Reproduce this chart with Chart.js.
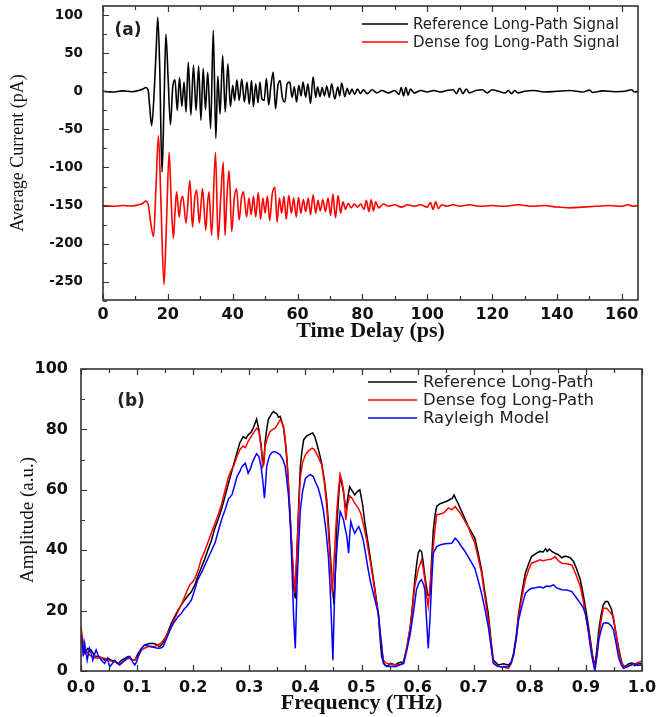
<!DOCTYPE html>
<html><head><meta charset="utf-8">
<script src="https://cdn.jsdelivr.net/npm/chart.js@4"></script>
<style>
html,body{margin:0;padding:0;background:#fff;overflow:hidden;}
#wrapA{position:absolute;left:0;top:0;width:658px;height:350px;}
#wrapB{position:absolute;left:0;top:350px;width:658px;height:367px;}
</style></head><body>
<div id="wrapA"><canvas id="chartA"></canvas></div>
<div id="wrapB"><canvas id="chartB"></canvas></div>
<script>
// ---------- Panel (a): time-domain signals ----------
const refTime = [0,3,6,9,11,12.3,13.2,13.9,14.4,15.0,15.8,16.4,16.9,17.5,18.2,18.8,19.4,20.1,20.8,21.5,22.2,22.9,23.6,24.3,25.0,25.6,26.3,27.1,27.9,28.7,29.5,30.2,30.9,31.6,32.3,33.2,34.0,34.8,35.4,36.1,36.9,37.7,38.5,39.3,40.0,40.6,41.3,42.0,42.8,43.6,44.4,45.1,45.8,46.4,47.1,47.8,48.4,49.0,49.7,50.4,51.1,51.8,52.5,53.2,53.9,54.6,55.3,56.1,56.8,57.6,58.3,59.0,59.7,60.4,61.1,61.7,62.5,63.2,64.0,64.8,65.6,66.2,66.9,67.6,68.3,69.0,69.8,70.5,71.5,72.4,73.0,73.6,74.6,75.3,76.0,76.8,77.6,78.5,79.4,80.3,81.5,83,84.5,86,88,90,91.3,92.0,92.7,93.4,94.1,94.8,96,98,100,102,104,106,108,109,110,111,112,113,115,117,118.5,120,122,124,125,126,127,128,130,133,136,140,144,148,150,151,154,158,161,163,164,165];
const refSignal = [0,-1,0.5,-0.5,1,3,5,2,-20,-45,0,55,97,30,-106,-20,75,15,-44,5,15,-25,18,-20,12,-27,38,-31,34,-25,33,-38,30,-24,25,-49,80,-62,20,-30,47,-27,36,-20,8,-12,15,-12,16,-14,12,-17,14,-20,10,-15,12,-10,-12,17,-18,8,25,-23,6,14,-8,-14,10,12,-8,6,-14,8,-6,12,-8,10,-16,19,-8,6,-7,5,-6,7,-8,10,-10,6,-6,11,-7,4,-4,3,-4,3,-3,2,-3,2,-2,1,-2,1,-4,5,-6,5,-5,3,-2,1,-1,1,-1,1,2,-3,4,-3,3,-2,1,2,-2,2,0,-2,1,-3,1,-2,0,1,-1,0,1,-1,1.5,-1.5,0.5,-0.5,0,2,-1,0];
const fogTime = [0,3,6,9,11,12.3,13.2,14.0,14.8,15.6,16.3,17.1,17.9,18.8,19.6,20.4,21.0,21.7,22.2,22.7,23.5,24.0,24.6,25.6,26.8,27.6,28.3,28.9,29.7,30.2,30.7,31.7,32.2,32.7,33.5,34.7,35.5,36.3,37.1,37.6,38.2,38.9,39.7,40.5,41.2,42.0,42.7,43.3,44.3,45.0,45.7,46.4,47.1,47.9,48.6,49.3,50.0,50.7,51.4,52.2,53.0,53.7,54.4,55.1,55.8,56.5,57.3,58.1,58.8,59.6,60.3,61.0,61.8,62.5,63.3,64.0,64.8,65.6,66.3,67.0,67.8,68.6,69.4,70.2,70.9,71.7,72.5,73.3,74.0,74.8,75.6,76.5,77.5,78.5,79.5,80.5,81.2,82.0,82.7,83.4,84.1,85,86.5,88,90,92,94,96,98,100,101,101.8,102.6,103.4,104.5,106,108,110,113,116,120,124,128,132,136,140,144,148,152,156,160,162,163.5,165];
const fogSignal = [-150,-151,-150,-150.5,-149,-147,-144,-150,-175,-191,-130,-58,-150,-254,-170,-80,-140,-193,-160,-132,-165,-145,-138,-173,-117,-178,-140,-130,-173,-150,-128,-182,-150,-132,-189,-80,-195,-140,-93,-189,-140,-104,-184,-140,-128,-169,-140,-132,-165,-140,-162,-138,-165,-133,-168,-140,-160,-138,-170,-135,-126,-172,-140,-160,-138,-168,-137,-160,-140,-165,-139,-160,-142,-158,-140,-162,-136,-160,-143,-157,-142,-158,-140,-163,-135,-166,-137,-160,-145,-155,-147,-153,-148,-152,-148,-155,-143,-158,-142,-157,-145,-153,-148,-151,-149,-152,-149,-151,-149,-152,-146,-155,-145,-154,-149,-151,-149,-151,-149,-151,-150,-151,-149,-151,-150,-152,-153,-152,-151,-150,-151,-149,-151,-150];
const timeTickValues = [0,10,20,30,40,50,60,70,80,90,100,110,120,130,140,150,160];
const timeTickLabels = ['0','','20','','40','','60','','80','','100','','120','','140','','160'];
const currentTickValues = [-275,-250,-225,-200,-175,-150,-125,-100,-75,-50,-25,0,25,50,75,100];
const currentTickLabels = ['','-250','','-200','','-150','','-100','','-50','','0','','50','','100'];

// ---------- Panel (b): spectra ----------
const refFreq = [0,0.003,0.007,0.012,0.018,0.024,0.030,0.036,0.042,0.048,0.054,0.060,0.066,0.072,0.078,0.084,0.090,0.096,0.102,0.108,0.113,0.120,0.128,0.134,0.140,0.145,0.149,0.155,0.161,0.167,0.173,0.179,0.185,0.191,0.197,0.203,0.208,0.214,0.220,0.226,0.232,0.239,0.245,0.251,0.257,0.263,0.270,0.276,0.283,0.289,0.294,0.298,0.303,0.307,0.313,0.317,0.321,0.324,0.326,0.328,0.331,0.334,0.339,0.343,0.346,0.349,0.352,0.355,0.358,0.361,0.364,0.367,0.370,0.373,0.376,0.379,0.382,0.385,0.388,0.391,0.394,0.397,0.402,0.406,0.410,0.413,0.417,0.420,0.425,0.429,0.434,0.438,0.441,0.444,0.448,0.451,0.454,0.456,0.459,0.462,0.465,0.468,0.471,0.473,0.476,0.479,0.484,0.488,0.493,0.497,0.502,0.506,0.512,0.518,0.524,0.530,0.533,0.536,0.540,0.545,0.552,0.560,0.567,0.575,0.581,0.587,0.591,0.595,0.598,0.601,0.604,0.607,0.610,0.613,0.618,0.622,0.625,0.628,0.631,0.634,0.640,0.646,0.652,0.657,0.662,0.665,0.668,0.672,0.678,0.684,0.690,0.696,0.702,0.708,0.714,0.720,0.726,0.731,0.735,0.744,0.753,0.762,0.767,0.771,0.776,0.780,0.786,0.792,0.798,0.803,0.810,0.818,0.824,0.828,0.831,0.835,0.839,0.845,0.851,0.857,0.862,0.866,0.872,0.878,0.884,0.890,0.895,0.899,0.904,0.908,0.912,0.916,0.920,0.923,0.927,0.931,0.935,0.939,0.943,0.946,0.952,0.958,0.963,0.967,0.972,0.977,0.982,0.987,0.992,0.997,1.000];
const refAmp = [11,8,5.9,7.5,7,5,4.8,4.5,3.6,4.2,3.6,3.2,2.5,3.5,4.2,4.8,3.8,3.6,5.9,7.5,8.6,9,9.2,8.8,8,9,10.3,13,15.8,18,20.2,22,23.6,25,26.3,28.5,31.3,34,36.8,40,43,47.5,50.5,54,58,62.2,67,71,75.5,77.6,77,78.2,79,80.4,83.4,80,75,69,69.5,75.5,80,83.3,85,86,85.5,85.2,84,84.3,82.5,80.4,76,70,61,51,40,28,24,40,55,67.7,73,76.6,77.8,78.2,78.6,78.8,77.5,75.5,72,68.8,63,56.7,49,40,28,22,35,47.8,57,64.4,62,59,55,54,58,61,59.5,58.3,59.5,60,55,49,42,34.6,27,19,11,4.7,2.5,1.5,2.5,2,2.8,3,8,14.7,22,30,35,39,40,39.6,36,31.3,25.2,25.2,37,46.7,51.5,54.5,55.4,55.8,56.2,56.7,57.2,58.3,57,55.6,53,50.6,48,46,44,39,33.5,26,19,10,3.6,2,2.4,2,3,5.8,12,19,26,32.4,35.5,37.9,38.8,39.6,39.4,40.5,39.6,40.4,39.6,39,38.5,37.5,38,37.9,37.5,36.3,33.5,30.2,25.5,21.3,15.5,10.3,5,1.5,8,13.6,18.5,21.9,23,23,21.5,20.2,14,8,3.5,1.5,1.8,2.5,2.6,1.8,2.3,2.5,2.4];
const fogFreq = [0,0.004,0.008,0.015,0.021,0.027,0.034,0.042,0.050,0.057,0.064,0.072,0.078,0.084,0.090,0.096,0.102,0.108,0.114,0.119,0.125,0.131,0.137,0.143,0.150,0.158,0.165,0.173,0.179,0.185,0.190,0.194,0.199,0.203,0.209,0.214,0.220,0.226,0.232,0.239,0.245,0.251,0.257,0.263,0.268,0.272,0.277,0.283,0.289,0.293,0.298,0.303,0.308,0.313,0.317,0.321,0.324,0.326,0.328,0.332,0.337,0.342,0.346,0.350,0.355,0.358,0.361,0.364,0.367,0.370,0.373,0.377,0.381,0.385,0.388,0.391,0.395,0.400,0.406,0.412,0.416,0.420,0.425,0.429,0.434,0.438,0.441,0.444,0.448,0.452,0.456,0.459,0.462,0.465,0.468,0.470,0.472,0.475,0.479,0.484,0.488,0.494,0.499,0.504,0.509,0.514,0.518,0.524,0.530,0.534,0.539,0.544,0.548,0.554,0.560,0.568,0.575,0.581,0.587,0.591,0.595,0.601,0.607,0.610,0.613,0.616,0.619,0.623,0.628,0.631,0.634,0.640,0.646,0.650,0.655,0.661,0.667,0.671,0.676,0.683,0.690,0.696,0.702,0.708,0.714,0.720,0.726,0.731,0.735,0.741,0.747,0.755,0.762,0.767,0.771,0.776,0.780,0.786,0.792,0.798,0.803,0.810,0.818,0.824,0.830,0.838,0.845,0.851,0.857,0.866,0.875,0.882,0.890,0.895,0.899,0.904,0.908,0.912,0.916,0.920,0.923,0.927,0.931,0.937,0.943,0.949,0.954,0.958,0.963,0.967,0.975,0.982,0.990,0.997,1.000];
const fogAmp = [14.7,9,7,5.3,4.6,4.2,4.4,4.2,3.5,3.1,2.7,2.5,3.5,4.2,3.9,3.6,5,7,7.6,8,8.2,8,8.6,9.2,11,13.6,16.5,19.7,22,24.7,27,28.6,29.5,30.7,33.5,36.8,39.5,42.5,45.5,49,52,55.5,60,64.3,66.5,67.7,70.5,73.3,74.5,74,76,77.5,79,80.4,79.5,74,67.7,68.5,74.4,77,79.3,80,80.4,81.5,83.2,82.5,81,77,71,61,50,38,25.7,40,53,64.4,69,71.6,73,73.8,73.3,72,70,68.3,62,54.5,46,37,25.7,40,53,60,65,63,60,55,50,55,58,57,55.6,54,52,48,43.4,38,33.5,26,19,11,3.6,2.6,2.5,2.2,2,2.2,2.5,8,14.7,21,28,33.5,36.8,34,30.2,25,21.3,30,41.2,47,51.7,52,52.3,53,54,53.4,54.5,53.5,52.3,50,47.8,45,42.3,37.5,32.4,24.5,16.9,9,3.1,1.8,1.4,1.2,0.9,2.5,5.3,11,18,24.5,30.2,33.5,35.7,36.2,36.8,36.5,36.8,37,37.9,36.5,35.7,35.5,35.1,32,28,23.5,19,14,9.2,4.5,0.9,6,11.4,16.5,20.8,20.8,19.5,18,12,6.9,3,1.4,1.7,2,2.6,3.1,3.2];
const modelFreq = [0,0.002,0.004,0.0065,0.009,0.011,0.015,0.018,0.021,0.024,0.027,0.031,0.036,0.042,0.047,0.051,0.056,0.060,0.065,0.069,0.074,0.078,0.083,0.087,0.092,0.096,0.099,0.102,0.108,0.113,0.119,0.125,0.131,0.137,0.142,0.146,0.151,0.155,0.161,0.167,0.173,0.179,0.184,0.188,0.193,0.197,0.203,0.208,0.213,0.217,0.222,0.228,0.233,0.239,0.245,0.251,0.257,0.263,0.269,0.274,0.278,0.283,0.287,0.293,0.298,0.302,0.305,0.309,0.313,0.317,0.321,0.324,0.327,0.329,0.331,0.334,0.337,0.341,0.345,0.350,0.355,0.360,0.364,0.367,0.370,0.373,0.375,0.377,0.379,0.382,0.385,0.388,0.391,0.395,0.400,0.405,0.409,0.414,0.418,0.423,0.428,0.432,0.437,0.441,0.444,0.446,0.449,0.451,0.453,0.457,0.462,0.465,0.468,0.471,0.474,0.477,0.479,0.481,0.484,0.488,0.492,0.495,0.499,0.503,0.508,0.512,0.516,0.521,0.526,0.530,0.535,0.539,0.544,0.548,0.554,0.560,0.568,0.575,0.581,0.587,0.593,0.598,0.603,0.607,0.611,0.613,0.616,0.619,0.622,0.625,0.628,0.634,0.641,0.649,0.655,0.661,0.667,0.672,0.676,0.683,0.690,0.696,0.702,0.708,0.714,0.720,0.726,0.731,0.735,0.741,0.747,0.755,0.762,0.767,0.771,0.776,0.780,0.786,0.792,0.798,0.803,0.810,0.818,0.824,0.830,0.836,0.842,0.848,0.857,0.866,0.875,0.882,0.890,0.895,0.899,0.904,0.908,0.912,0.916,0.920,0.923,0.927,0.931,0.936,0.940,0.945,0.949,0.954,0.958,0.963,0.967,0.975,0.985,0.992,1.000];
const modelAmp = [12,10.3,4.8,9.2,6,3.6,7.5,6,3.6,5.5,7,5,3.6,2.5,4.2,1.4,2.5,3.6,2.5,2,3,3.6,4.5,4.8,3,2,3,4.8,7.5,8.6,8.3,8,7.8,7.5,7.6,8,10,11.9,14.5,16.4,18,19.1,20.5,21.3,22.5,23.6,27,30.2,32,33.5,35.5,38,40,42.5,46.5,50.4,53.5,57,58.3,61.5,64.4,66,67.7,68.8,65.5,67,68.8,70.5,72,71,67.7,63,57.2,62,67.7,70,71.6,72.5,72.7,72.2,71.6,70,67.7,63,57.8,49,40,29,18,7.5,28,42,53.3,59.5,63.8,64.6,65,64.4,62.5,60.5,57,53.3,46,37.9,28,19,3.6,18,32,43,52.8,51.5,50,47,44.5,39,45,49.5,47.5,45.6,47,47.8,46,43.4,38,33.5,29.5,25.7,22,19,10,2.5,1.6,1.5,1.6,1.4,2,2.5,7,12.5,20,26.9,29.5,30.2,28.5,26.9,16.9,7.5,16.9,29,39,41.2,41.8,42.1,42.2,42.3,44,43,41.8,40,37.9,36,34,30,25.7,20.5,14.7,8,2.5,1.7,1.4,1.5,1.4,2.8,5.3,11,16.9,21.5,25.7,26.8,27.4,27.6,27.9,27.5,28.1,28,28.5,27.5,26.9,26.8,26.3,24.5,22.5,21,19,13.5,8,3.5,0,5.5,10.3,13.5,15.8,16,15.8,15,13.6,9,4.7,2,0.9,1.5,2.5,1.8,2];
const freqTickValues = [0,0.05,0.1,0.15,0.2,0.25,0.3,0.35,0.4,0.45,0.5,0.55,0.6,0.65,0.7,0.75,0.8,0.85,0.9,0.95,1.0];
const freqTickLabels = ['0.0','','0.1','','0.2','','0.3','','0.4','','0.5','','0.6','','0.7','','0.8','','0.9','','1.0'];
const ampTickValues = [0,10,20,30,40,50,60,70,80,90,100];
const ampTickLabels = ['0','','20','','40','','60','','80','','100'];

function pairs(xs, ys) { return xs.map((x, i) => ({x: x, y: ys[i]})); }

// ---------- plugins ----------
const framePlugin = {
  id: 'frameTicks',
  afterDatasetsDraw(chart, args, o) {
    const {ctx, chartArea: a} = chart;
    const xs = chart.scales.x, ys = chart.scales.y;
    ctx.save();
    ctx.strokeStyle = o.color; ctx.lineWidth = o.width;
    ctx.lineCap = 'butt';
    ctx.strokeRect(a.left, a.top, a.right - a.left, a.bottom - a.top);
    ctx.lineWidth = o.tickWidth;
    ctx.beginPath();
    xs.ticks.forEach(t => {
      const px = Math.round(xs.getPixelForValue(t.value)) + 0.5;
      const len = t.label !== '' ? o.major : o.minor;
      ctx.moveTo(px, a.bottom); ctx.lineTo(px, a.bottom - len);
      ctx.moveTo(px, a.top); ctx.lineTo(px, a.top + len);
    });
    ys.ticks.forEach(t => {
      const py = Math.round(ys.getPixelForValue(t.value)) + 0.5;
      const len = t.label !== '' ? o.major : o.minor;
      ctx.moveTo(a.left, py); ctx.lineTo(a.left + len, py);
    });
    ctx.stroke();
    ctx.restore();
  }
};
const legendPlugin = {
  id: 'insideLegend',
  afterDatasetsDraw(chart, args, o) {
    const ctx = chart.ctx;
    ctx.save();
    chart.data.datasets.forEach((ds, i) => {
      const y = o.y0 + i * o.dy;
      ctx.strokeStyle = ds.borderColor; ctx.lineWidth = o.lineWidth;
      ctx.beginPath(); ctx.moveTo(o.x0, y); ctx.lineTo(o.x1, y); ctx.stroke();
      ctx.fillStyle = o.color; ctx.font = o.font;
      ctx.textBaseline = 'middle'; ctx.textAlign = 'left';
      ctx.fillText(ds.label, o.tx, y + 1);
    });
    ctx.fillStyle = o.color; ctx.font = o.panelFont;
    ctx.textBaseline = 'middle'; ctx.textAlign = 'center';
    ctx.fillText(o.panelText, o.panelX, o.panelY);
    ctx.restore();
  }
};

function tickSetter(values) {
  return function(scale) { scale.ticks = values.map(v => ({value: v})); };
}
function labeler(values, labels) {
  return function(v) { const k = values.findIndex(t => Math.abs(t - v) < 1e-9); return k >= 0 ? labels[k] : ''; };
}
function fitY(w) { return s => { s.width = w; s.paddingTop = 0; s.paddingBottom = 0; }; }
function fitX(h) { return s => { s.height = h; s.paddingLeft = 0; s.paddingRight = 0; }; }

Chart.defaults.font.family = 'DejaVu Sans';
Chart.defaults.color = '#111';

// ---------- Chart (a) ----------
new Chart(document.getElementById('chartA'), {
  type: 'line',
  data: {
    datasets: [
      {label: 'Reference Long-Path Signal', data: pairs(refTime, refSignal), borderColor: '#000000', borderWidth: 1.6, pointRadius: 0, cubicInterpolationMode: 'monotone'},
      {label: 'Dense fog Long-Path Signal', data: pairs(fogTime, fogSignal), borderColor: '#ff0000', borderWidth: 1.6, pointRadius: 0, cubicInterpolationMode: 'monotone'}
    ]
  },
  options: {
    animation: false, responsive: true, maintainAspectRatio: false, devicePixelRatio: 1,
    layout: {padding: {left: 0, right: 20, top: 6, bottom: 0}},
    plugins: {
      legend: {display: false}, tooltip: {enabled: false},
      frameTicks: {color: '#333', width: 1.6, tickWidth: 1.2, major: 6, minor: 4},
      insideLegend: {x0: 362, x1: 408, tx: 413, y0: 24, dy: 18, lineWidth: 1.3, color: '#222',
        font: '15px "DejaVu Sans"', panelText: '(a)', panelFont: 'bold 17px "DejaVu Sans"', panelX: 128, panelY: 31}
    },
    scales: {
      x: {
        type: 'linear', min: 0, max: 165,
        afterBuildTicks: tickSetter(timeTickValues),
        afterFit: fitX(50),
        grid: {display: false, drawTicks: false}, border: {display: false},
        ticks: {autoSkip: false, maxRotation: 0, padding: 5, callback: labeler(timeTickValues, timeTickLabels),
          font: {family: 'DejaVu Sans', weight: 'bold', size: 16}},
        title: {display: true, text: 'Time Delay (ps)', font: {family: 'Liberation Serif', weight: 'bold', size: 22}, padding: {top: 0, bottom: 5}, color: '#111'}
      },
      y: {
        type: 'linear', min: -274, max: 112,
        afterBuildTicks: tickSetter(currentTickValues),
        afterFit: fitY(103),
        grid: {display: false, drawTicks: false}, border: {display: false},
        ticks: {autoSkip: false, padding: 20, callback: labeler(currentTickValues, currentTickLabels),
          font: {family: 'DejaVu Sans', weight: 'bold', size: 13.5, lineHeight: 1}},
        title: {display: true, text: 'Average Current (pA)', font: {family: 'Liberation Serif', size: 18}, padding: {top: 7, bottom: 0}, color: '#111'}
      }
    }
  },
  plugins: [framePlugin, legendPlugin]
});

// ---------- Chart (b) ----------
new Chart(document.getElementById('chartB'), {
  type: 'line',
  data: {
    datasets: [
      {label: 'Reference Long-Path', data: pairs(refFreq, refAmp), borderColor: '#000000', borderWidth: 1.5, pointRadius: 0, order: 2},
      {label: 'Dense fog Long-Path', data: pairs(fogFreq, fogAmp), borderColor: '#ff0000', borderWidth: 1.5, pointRadius: 0, order: 1},
      {label: 'Rayleigh Model', data: pairs(modelFreq, modelAmp), borderColor: '#0000ff', borderWidth: 1.5, pointRadius: 0, order: 0}
    ]
  },
  options: {
    animation: false, responsive: true, maintainAspectRatio: false, devicePixelRatio: 1,
    layout: {padding: {left: 0, right: 16, top: 19, bottom: 0}},
    plugins: {
      legend: {display: false}, tooltip: {enabled: false},
      frameTicks: {color: '#333', width: 1.6, tickWidth: 1.2, major: 6, minor: 4},
      insideLegend: {x0: 368, x1: 417, tx: 423, y0: 32, dy: 18, lineWidth: 1.5, color: '#222',
        font: '16.5px "DejaVu Sans"', panelText: '(b)', panelFont: 'bold 17px "DejaVu Sans"', panelX: 131, panelY: 52}
    },
    scales: {
      x: {
        type: 'linear', min: 0, max: 1,
        afterBuildTicks: tickSetter(freqTickValues),
        afterFit: fitX(46),
        grid: {display: false, drawTicks: false}, border: {display: false},
        ticks: {autoSkip: false, maxRotation: 0, padding: 7, callback: labeler(freqTickValues, freqTickLabels),
          font: {family: 'DejaVu Sans', weight: 'bold', size: 16}},
        title: {display: true, text: 'Frequency (THz)', font: {family: 'Liberation Serif', weight: 'bold', size: 22}, padding: {top: 0, bottom: 0}, color: '#111'}
      },
      y: {
        type: 'linear', min: 0, max: 100,
        afterBuildTicks: tickSetter(ampTickValues),
        afterFit: fitY(81),
        grid: {display: false, drawTicks: false}, border: {display: false},
        ticks: {autoSkip: false, padding: 13, callback: labeler(ampTickValues, ampTickLabels),
          font: {family: 'DejaVu Sans', weight: 'bold', size: 16, lineHeight: 1}},
        title: {display: true, text: 'Amplitude (a.u.)', font: {family: 'Liberation Serif', size: 19}, padding: {top: 17, bottom: 0}, color: '#111'}
      }
    }
  },
  plugins: [framePlugin, legendPlugin]
});
</script>
</body></html>
